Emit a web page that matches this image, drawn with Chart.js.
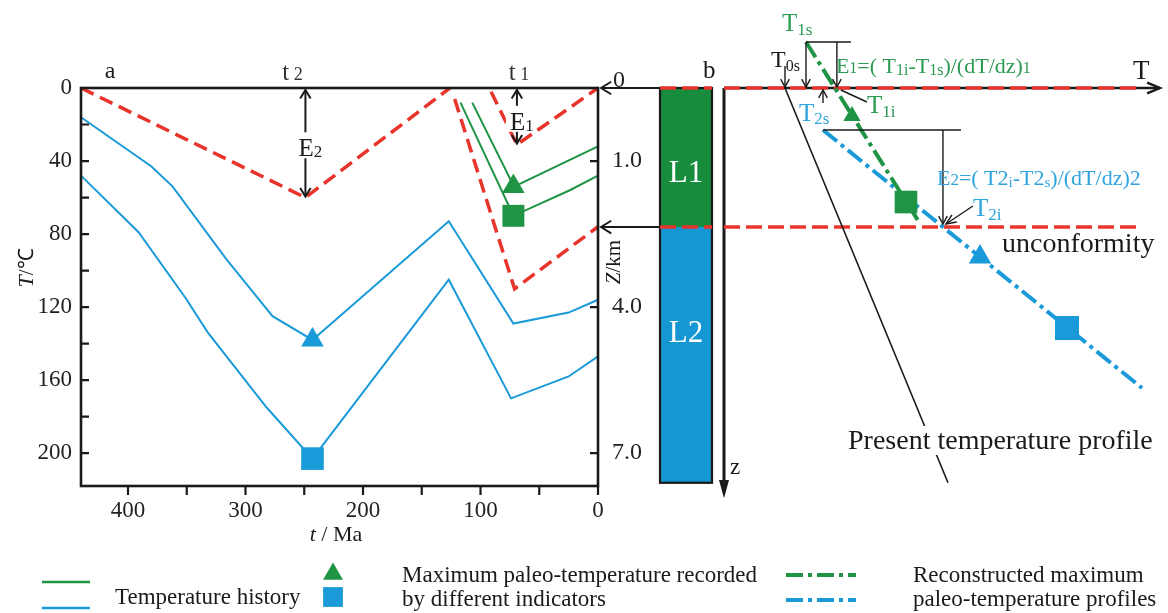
<!DOCTYPE html>
<html lang="en"><head>
<meta charset="utf-8">
<title>Temperature history and paleo-temperature profiles</title>
<script src="https://cdn.jsdelivr.net/npm/chart.js"></script>
<style type="text/css">
body { margin:0; background:#ffffff; }
#box { position:relative; width:1168px; height:613px; }
#box canvas { position:absolute; left:0; top:0; }
</style>
<script>
// panel a: [age in Ma, temperature in degC]
const redE2=[[440,0],[249,60],[126,0]];
const redE1=[[91,2],[69,31],[0,0]];
const redLow=[[122,6],[71,110],[0,76]];
const greenUpper=[[107,8],[71.5,54],[0,32]];
const greenLower=[[117,8],[72,70],[24,56],[0,48]];
const blueUpper=[[440,16],[380,43],[362,54],[316,94],[277,125],[243,138],[127,73],[72,129],[25,123],[0,116]];
const blueLower=[[440,48],[391,79],[351,115],[332,134],[282,175],[243,203],[127,105],[74,170],[25,158],[0,147]];
const markGreenTri=[72,54], markGreenSq=[72,70], markBlueTri=[243,138], markBlueSq=[243,203];
const ageTicks=[0,50,100,150,200,250,300,350,400];
const tempTicks=[0,20,40,60,80,100,120,140,160,180,200];
const depthTickPos=[0,40,120,200];
const depthTickLabels=['0','1.0','4.0','7.0'];

// panel b: [relative temperature, depth z]
const presentProfile=[[30.5,0],[112,5.64]];
const greenProfile=[[41,-0.657],[97.5,1.914]];
const blueProfile=[[49.5,0.6],[209,4.286]];
const surfaceLine=[[-32,0],[-6,0],[-3,null],[0,0],[208,0]];
const unconformityLine=[[-32,1.986],[-6,1.986],[-3,null],[0,1.986],[209,1.986]];
const profGreenTri=[64,0.4], profGreenSq=[91,1.629], profBlueTri=[128,2.414], profBlueSq=[171.5,3.429];
const layerNames=['L1','L2'];
const layerTop=[0,1.986];
const layerBase=[1.986,5.64];

const FONT='"Liberation Serif","Times New Roman",serif';
const RED='#e8342b', GREEN='#1f9444', BLUE='#1a9ad8', INK='#1a1a1a';
const TGREEN='#2a9a52', TBLUE='#2ea4de';

function P(a) { return a.map(p=>({x:p[0],y:p[1]})); }
function lineDs(a,col,w,dash) {
  return {data:P(a),borderColor:col,borderWidth:w,borderDash:dash||[],pointRadius:0,
          pointHoverRadius:0,fill:false,tension:0,clip:false}; }
function markDs(p,style,col,r) {
  return {data:P([p]),pointStyle:style,pointRadius:r,pointHoverRadius:r,pointBackgroundColor:col,
          pointBorderColor:col,pointBorderWidth:0,showLine:false,clip:false}; }

function rich(c,x,y,parts,col,align) {
  let w=0;
  parts.forEach(p=>{ c.font=(p[3]||'')+' '+p[1]+'px '+FONT; w+=c.measureText(p[0]).width; });
  let cx=align==='center'?x-w/2:(align==='right'?x-w:x);
  c.fillStyle=col; c.textAlign='left'; c.textBaseline='alphabetic';
  parts.forEach(p=>{ c.font=(p[3]||'')+' '+p[1]+'px '+FONT; c.fillText(p[0],cx,y+(p[2]||0));
                     cx+=c.measureText(p[0]).width; });
  return w; }
function vee(c,x,y,ang,len,spr) {
  c.beginPath();
  c.moveTo(x-len*Math.cos(ang-spr),y-len*Math.sin(ang-spr)); c.lineTo(x,y);
  c.lineTo(x-len*Math.cos(ang+spr),y-len*Math.sin(ang+spr)); c.stroke(); }
function arrow(c,x1,y1,x2,y2,len,spr) {
  c.beginPath(); c.moveTo(x1,y1); c.lineTo(x2,y2); c.stroke();
  vee(c,x2,y2,Math.atan2(y2-y1,x2-x1),len||10,spr||0.5); }
function seg(c,x1,y1,x2,y2) { c.beginPath(); c.moveTo(x1,y1); c.lineTo(x2,y2); c.stroke(); }

const panelA={id:'panelA',afterDraw(ch) {
  const c=ch.ctx,a=ch.chartArea,sx=ch.scales.x,sy=ch.scales.y;
  const X=v=>sx.getPixelForValue(v), Y=v=>sy.getPixelForValue(v);
  c.save(); c.setLineDash([]);
  c.strokeStyle=INK; c.lineWidth=2.6;
  c.strokeRect(a.left,a.top,a.right-a.left,a.bottom-a.top);
  c.lineWidth=2.2; c.beginPath();
  tempTicks.forEach(v=>{ if(v>0){ c.moveTo(a.left,Y(v)); c.lineTo(a.left+8,Y(v)); } });
  ageTicks.forEach(v=>{ c.moveTo(X(v),a.bottom); c.lineTo(X(v),a.bottom+9); });
  depthTickPos.forEach(v=>{ if(v>0){ c.moveTo(a.right,Y(v)); c.lineTo(a.right-8,Y(v)); } });
  c.stroke();
  // surface label of the depth axis sits just above its arrow
  rich(c,a.right+15,Y(depthTickPos[0])-1,[[depthTickLabels[0],24]],'#222');
  // erosion arrows at the red vertices
  [[redE2[1],'2',-13],[redE1[1],'1',2]].forEach(e=>{
    const px=X(e[0][0]), y0=a.top+1, y1=Y(e[0][1]), ym=(y0+y1)/2+4;
    c.lineWidth=2; c.strokeStyle=INK;
    arrow(c,px,ym,px,y0+1,10,0.55); arrow(c,px,ym,px,y1-1,10,0.55);
    c.fillStyle='#fff'; c.fillRect(px-11,ym-15,28,26);
    rich(c,px+5,ym+9,[['E',25],[e[1],17,1]],INK,'center');
    rich(c,px+e[2],80,[['t',25],[' '+e[1],18]],'#333','center'); });
  rich(c,110,78,[['a',24]],INK,'center');
  // axis titles
  c.save(); c.translate(26,268); c.rotate(-Math.PI/2);
  rich(c,0,7,[['T',22,0,'italic'],['/\u2103',21]],INK,'center'); c.restore();
  c.save(); c.translate(613,262); c.rotate(-Math.PI/2);
  rich(c,0,7,[['Z',21,0,'italic'],['/km',21]],INK,'center'); c.restore();
  rich(c,336,541,[['t',22,0,'italic'],[' / Ma',22]],INK,'center');
  // legend
  c.lineWidth=2.6;
  c.strokeStyle=GREEN; seg(c,42,582,90,582);
  c.strokeStyle=BLUE; seg(c,42,608,90,608);
  rich(c,115,604,[['Temperature history',23]],INK);
  c.fillStyle=GREEN; Chart.helpers.drawPoint(c,{pointStyle:'triangle',radius:11.5,rotation:0,borderWidth:0},333,574);
  c.fillStyle=BLUE; Chart.helpers.drawPoint(c,{pointStyle:'rect',radius:14,rotation:0,borderWidth:0},333,597);
  rich(c,402,582,[['Maximum paleo-temperature recorded',23]],INK);
  rich(c,402,606,[['by different indicators',23]],INK);
  c.lineWidth=4; c.setLineDash([17,5,4,5]);
  c.strokeStyle=GREEN; seg(c,786,575,856,575);
  c.strokeStyle=BLUE; seg(c,786,600,856,600);
  c.setLineDash([]);
  rich(c,913,582,[['Reconstructed maximum',23]],INK);
  rich(c,913,606,[['paleo-temperature profiles',23]],INK);
  c.restore(); }};

const panelB={id:'panelB',
  beforeDatasetsDraw(ch) {
    const c=ch.ctx,sx=ch.scales.x,sy=ch.scales.y;
    const X=v=>sx.getPixelForValue(v), Y=v=>sy.getPixelForValue(v);
    const left=X(-32), right=X(-6);
    c.save(); c.setLineDash([]);
    layerNames.forEach((n,i)=>{
      c.fillStyle=i===0?'#178c3d':'#1597d3';
      c.fillRect(left,Y(layerTop[i]),right-left,Y(layerBase[i])-Y(layerTop[i])); });
    c.strokeStyle=INK; c.lineWidth=2.2;
    c.strokeRect(left,Y(0),right-left,Y(layerBase[1])-Y(0));
    layerNames.forEach((n,i)=>{
      rich(c,(left+right)/2,Y(layerTop[i])+(i===0?94:115),[[n,31]],'#ffffff','center'); });
    c.lineWidth=2.4; arrow(c,X(0),Y(0),X(218),Y(0),14,0.4);
    c.lineWidth=3; seg(c,X(0),Y(0),X(0),Y(5.7));
    c.fillStyle=INK; c.beginPath(); c.moveTo(X(0),Y(5.86)); c.lineTo(X(0)-5,Y(5.6)); c.lineTo(X(0)+5,Y(5.6));
    c.closePath(); c.fill();
    c.lineWidth=2;
    arrow(c,left,Y(0),X(-61.5),Y(0),12,0.55);
    arrow(c,left,Y(layerBase[0]),X(-61.5),Y(layerBase[0]),12,0.55);
    c.restore(); },
  afterDatasetsDraw(ch) {
    const c=ch.ctx,sx=ch.scales.x,sy=ch.scales.y;
    const X=v=>sx.getPixelForValue(v), Y=v=>sy.getPixelForValue(v);
    c.save(); c.setLineDash([]);
    // key points from the profiles
    const g0=greenProfile[0], g1=greenProfile[1], b0=blueProfile[0], b1=blueProfile[1];
    const t1iX=g0[0]+(0-g0[1])*(g1[0]-g0[0])/(g1[1]-g0[1]);
    const t2iX=b0[0]+(layerBase[0]-b0[1])*(b1[0]-b0[0])/(b1[1]-b0[1]);
    const t1s=[X(g0[0]),Y(g0[1])], t1i=[X(t1iX),Y(0)], t2s=[X(b0[0]),Y(b0[1])], t2i=[X(t2iX),Y(layerBase[0])];
    const t0s=[X(presentProfile[0][0]),Y(0)];
    c.strokeStyle=INK; c.lineWidth=1.4;
    seg(c,t1s[0],t1s[1],t1i[0]+16,t1s[1]);
    arrow(c,t1s[0],t1s[1],t1s[0],Y(0)-1,9,0.5);
    arrow(c,t1i[0]+2,t1s[1],t1i[0]+2,Y(0)-1,9,0.5);
    arrow(c,t0s[0],t0s[1]-22,t0s[0],Y(0)-1,9,0.5);
    arrow(c,t2s[0],Y(0)+15,t2s[0],Y(0)+2,9,0.5);
    seg(c,t1i[0]+6,t1i[1]+2,t1i[0]+32,t1i[1]+14);
    seg(c,t2s[0],t2s[1],t2i[0]+18,t2s[1]);
    arrow(c,t2i[0],t2s[1],t2i[0],t2i[1]-3,9,0.5);
    arrow(c,t2i[0]+30,t2i[1]-21,t2i[0]+3,t2i[1]-3,11,0.4);
    // labels
    rich(c,703,78,[['b',25]],INK);
    rich(c,1133,79,[['T',27]],INK);
    rich(c,730,474,[['z',23]],INK);
    rich(c,t1s[0]-24,31,[['T',25],['1s',17,4]],TGREEN);
    rich(c,t0s[0]-14,67,[['T',24],['0s',16,4]],INK);
    rich(c,t1i[0]+32,113,[['T',25],['1i',17,4]],TGREEN);
    rich(c,t2s[0]-24,121,[['T',25],['2s',17,3]],TBLUE);
    rich(c,t2i[0]+30,216,[['T',25],['2i',17,4]],TBLUE);
    rich(c,t1i[0]+1,73,[['E',22],['1',16],['=( T',22],['1i',16,2],['-T',22],['1s',16,2],[')/(dT/dz)',22],['1',16]],TGREEN);
    rich(c,t2i[0]-6,185,[['E',22],['2',17],['=( T2',22],['i',15,2],['-T2',22],['s',15,2],[')/(dT/dz)2',22]],TBLUE);
    rich(c,1002,252,[['unconformity',28]],INK);
    c.font='28px '+FONT;
    const tw=c.measureText('Present temperature profile').width;
    c.fillStyle='#fff'; c.fillRect(846,426,tw+6,29);
    rich(c,848,449,[['Present temperature profile',28]],INK);
    c.restore(); }};

function tickFont(s) { return {family:FONT,size:s}; }

function initCharts() {
  const ca={type:'line',data:{datasets:[
      markDs(markGreenTri,'triangle',GREEN,13), markDs(markGreenSq,'rect',GREEN,15.5),
      markDs(markBlueTri,'triangle',BLUE,13), markDs(markBlueSq,'rect',BLUE,16),
      lineDs(greenUpper,GREEN,2), lineDs(greenLower,GREEN,2),
      lineDs(blueUpper,BLUE,2), lineDs(blueLower,BLUE,2),
      lineDs(redE2,RED,3.5,[14,7]), lineDs(redE1,RED,3.5,[14,7]), lineDs(redLow,RED,3.5,[14,7])]},
    options:{responsive:false,animation:false,events:[],
      layout:{autoPadding:false,padding:{left:0,right:0,top:88,bottom:0}},
      plugins:{legend:{display:false},tooltip:{enabled:false}},
      scales:{
        x:{type:'linear',reverse:true,min:0,max:440,position:'bottom',
           afterBuildTicks:s=>{ s.ticks=ageTicks.map(v=>({value:v})); },
           afterFit:s=>{ s.height=127; },
           ticks:{autoSkip:false,maxRotation:0,padding:11,color:'#222',font:tickFont(23),
                  callback:v=>v%100===0?String(v):''},
           grid:{display:false,drawTicks:false},border:{display:false}},
        y:{type:'linear',reverse:true,min:0,max:218,position:'left',
           afterBuildTicks:s=>{ s.ticks=tempTicks.map(v=>({value:v})); },
           afterFit:s=>{ s.width=81; },
           ticks:{autoSkip:false,padding:9,color:'#222',font:tickFont(23),
                  callback:v=>v%40===0?String(v):''},
           grid:{display:false,drawTicks:false},border:{display:false}},
        z:{type:'linear',reverse:true,min:0,max:218,position:'right',
           afterBuildTicks:s=>{ s.ticks=depthTickPos.map(v=>({value:v})); },
           afterFit:s=>{ s.width=570; },
           ticks:{autoSkip:false,padding:14,color:'#222',font:tickFont(24),
                  callback:(v,i)=>i===0?'':depthTickLabels[i]},
           grid:{display:false,drawTicks:false},border:{display:false}}}},
    plugins:[panelA]};
  new Chart(document.getElementById('chartA'),ca);

  const cb={type:'line',data:{datasets:[
      markDs(profGreenTri,'triangle',GREEN,10), markDs(profGreenSq,'rect',GREEN,16),
      markDs(profBlueTri,'triangle',BLUE,13), markDs(profBlueSq,'rect',BLUE,17),
      lineDs(greenProfile,GREEN,4,[18,5,4,5]), lineDs(blueProfile,BLUE,4,[18,5,4,5]),
      lineDs(presentProfile,INK,1.6),
      lineDs(surfaceLine,RED,3.5,[16,6]), lineDs(unconformityLine,RED,3.5,[16,6])]},
    options:{responsive:false,animation:false,events:[],spanGaps:false,
      layout:{autoPadding:false,padding:{left:600,right:0,top:0,bottom:68}},
      plugins:{legend:{display:false},tooltip:{enabled:false}},
      scales:{
        x:{type:'linear',min:-62,max:222,display:false},
        y:{type:'linear',reverse:true,min:-88/70,max:457/70,display:false}}},
    plugins:[panelB]};
  new Chart(document.getElementById('chartB'),cb); }
</script></head>
<body onload="initCharts();">
<div id="box">
  <canvas id="chartA" width="1168" height="613"></canvas>
  <canvas id="chartB" width="1168" height="613"></canvas>
</div>
</body></html>
